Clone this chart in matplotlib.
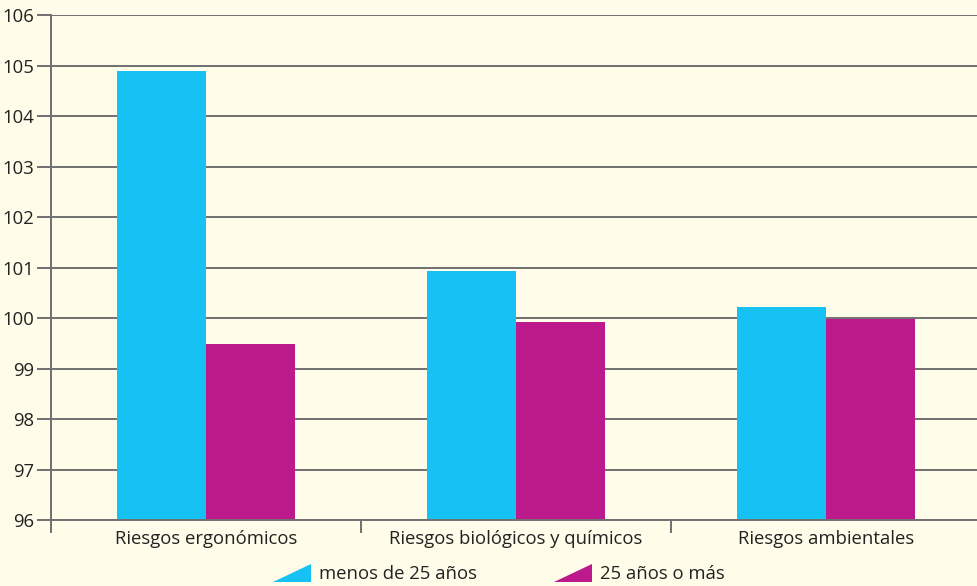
import numpy as np
import matplotlib.pyplot as plt
from matplotlib.lines import Line2D

categorias = ["Riesgos ergonómicos", "Riesgos biológicos y químicos", "Riesgos ambientales"]
menos_25 = [104.9, 100.93, 100.22]
mas_25 = [99.48, 99.92, 99.98]
series = ["menos de 25 años", "25 años o más"]
y_ticks = list(range(96, 107))

fondo = "#FFFDE9"
azul = "#16C2F3"
magenta = "#BC1A8C"
gris = "#707070"

plt.rcParams['font.family'] = ['Open Sans', 'DejaVu Sans']

fig = plt.figure(figsize=(9.77, 5.86), dpi=100, facecolor=fondo)
ax = fig.add_axes([51 / 977, 1 - 520 / 586, 930 / 977, 505 / 586])
ax.set_facecolor(fondo)

x = np.arange(len(categorias))
w = 0.287
ax.bar(x - w / 2, menos_25, w, color=azul, zorder=3)
ax.bar(x + w / 2, mas_25, w, color=magenta, zorder=3)

ax.set_ylim(96, 106)
ax.set_xlim(-0.5, len(categorias) - 0.5)
ax.set_yticks(y_ticks)
ax.set_xticks(x)
ax.set_xticklabels(categorias)
ax.set_xticks(np.arange(len(categorias) + 1) - 0.5, minor=True)

ax.grid(axis='y', color=gris, linewidth=1.4, zorder=1)
ax.set_axisbelow(True)
for s in ['top', 'right']:
    ax.spines[s].set_visible(False)
for s in ['left', 'bottom']:
    ax.spines[s].set_color(gris)
    ax.spines[s].set_linewidth(1.4)
    ax.spines[s].set_zorder(4)

ax.tick_params(axis='y', length=10, width=1.4, color=gris, labelsize=13.3, pad=2, labelcolor="#222222")
ax.tick_params(axis='x', which='major', length=0, labelsize=13.3, pad=7, labelcolor="#222222")
ax.tick_params(axis='x', which='minor', length=9, width=1.4, color=gris)

# triangulos de la leyenda
tri = [(-1, -0.5), (1, -0.5), (1, 0.5)]
handles = [Line2D([], [], linestyle='none', marker=tri, markersize=27, color=c, markeredgewidth=0)
           for c in (azul, magenta)]
fig.legend(handles, series, loc='lower center', bbox_to_anchor=(0.511, -0.024), ncol=2,
           frameon=False, fontsize=13.3, handlelength=2.0, handletextpad=0.45, columnspacing=4.2,
           labelcolor="#222222")

fig.savefig("out.png", dpi=100, facecolor=fondo)
